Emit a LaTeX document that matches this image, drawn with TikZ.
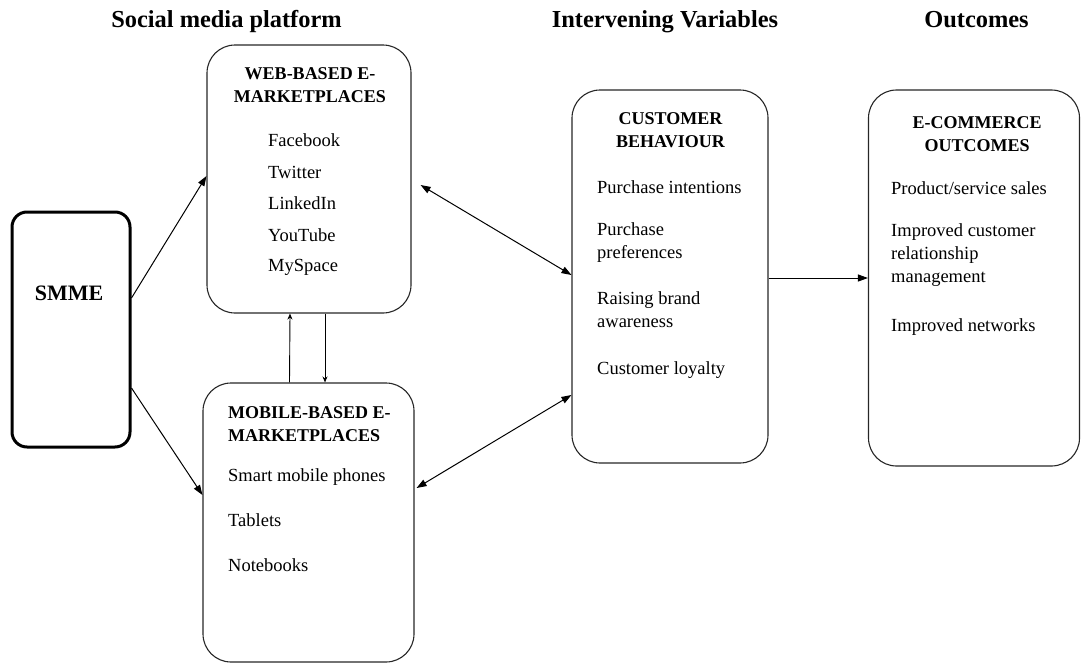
\documentclass[tikz,border=0pt]{standalone}
\usepackage{fontspec}
\setmainfont{Liberation Serif}
\usetikzlibrary{arrows.meta}
\begin{document}
\begin{tikzpicture}[x=1pt,y=-1pt,
  box/.style={draw=black!85, line width=1.1pt, rounded corners=28pt, inner sep=0pt},
  arr/.style={line width=1pt, -{Triangle[length=10pt,width=7pt]}},
  darr/.style={line width=1pt, {Triangle[length=10pt,width=7pt]}-{Triangle[length=10pt,width=7pt]}},
  varr/.style={line width=0.9pt, -{Stealth[length=6pt,width=5pt]}},
  head/.style={font=\fontsize{24.4}{28}\selectfont\bfseries, inner sep=0pt, anchor=base},
  bhead/.style={font=\fontsize{18}{23}\selectfont\bfseries, inner sep=0pt, align=center},
  item/.style={font=\fontsize{18.5}{23}\selectfont, inner sep=0pt, anchor=west, align=left}]
\useasboundingbox (0,0) rectangle (1081,664);
% headings
\node[head] (h1) at (226.5,27) {Social media platform};
\node[head] (h2) at (665,27) {Intervening Variables};
\node[head] (h3) at (976.5,27) {Outcomes};
% boxes
\node[draw=black, line width=3pt, rounded corners=15pt, minimum width=118pt, minimum height=235pt] (smme) at (71,329.5) {};
\node[font=\fontsize{22}{26}\selectfont\bfseries, inner sep=0pt] (smmet) at (69,293) {SMME};
\node[box, minimum width=204pt, minimum height=268pt] (web) at (309,179) {};
\node[box, minimum width=211pt, minimum height=279pt] (mob) at (308.5,522.5) {};
\node[box, minimum width=196pt, minimum height=373pt] (cust) at (670,276.5) {};
\node[box, minimum width=211pt, minimum height=376pt] (ecom) at (974,278) {};
% web text
\node[bhead] (webh) at (310,85) {WEB-BASED E-\\MARKETPLACES};
\node[item] (fb) at (268,140) {Facebook};
\node[item] (tw) at (268,172) {Twitter};
\node[item] (li) at (268,203) {LinkedIn};
\node[item] (yt) at (268,235) {YouTube};
\node[item] (ms) at (268,267) {MySpace};
% mobile text
\node[item, font=\fontsize{18}{23}\selectfont\bfseries] (mobh) at (228,424) {MOBILE-BASED E-\\MARKETPLACES};
\node[item] (smp) at (228,477) {Smart mobile phones};
\node[item] (tab) at (228,520) {Tablets};
\node[item] (nb) at (228,565) {Notebooks};
% customer text
\node[bhead] (custh) at (670.5,130) {CUSTOMER\\BEHAVIOUR};
\node[item] (pi) at (597,187) {Purchase intentions};
\node[item] (pp) at (597,243) {Purchase\\preferences};
\node[item] (rb) at (597,310) {Raising brand\\awareness};
\node[item] (cl) at (597,370) {Customer loyalty};
% ecommerce text
\node[bhead] (ecomh) at (977,134) {E-COMMERCE\\OUTCOMES};
\node[item] (ps) at (891,188) {Product/service sales};
\node[item] (icr) at (891,255) {Improved customer\\relationship\\management};
\node[item] (in) at (891,327) {Improved networks};
% connectors
\draw[arr] ([yshift=31.5pt]smme.east) -- ([yshift=3pt]web.west);
\draw[arr] ([yshift=-58.5pt]smme.east) -- ([yshift=27.5pt]mob.west);
\draw[darr] ([xshift=9pt,yshift=-6pt]web.east) -- ([yshift=1.5pt]cust.west);
\draw[darr] ([xshift=2pt,yshift=34.5pt]mob.east) -- ([yshift=-118.5pt]cust.west);
\draw[varr] ([xshift=-19pt]mob.north) -- ([xshift=-19pt]web.south);
\draw[varr] ([xshift=16pt]web.south) -- ([xshift=16.5pt]mob.north);
\draw[arr] (cust.east |- ecom.west) -- (ecom.west);
\end{tikzpicture}
\end{document}
